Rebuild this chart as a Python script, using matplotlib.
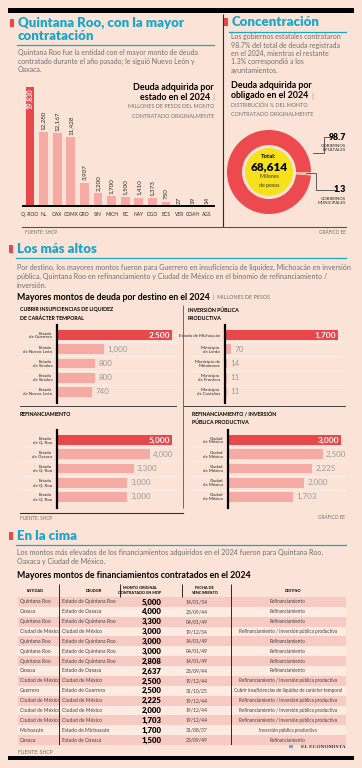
import matplotlib
matplotlib.use('Agg')
import matplotlib.pyplot as plt
from matplotlib.lines import Line2D
from matplotlib.patches import Rectangle, Circle
from matplotlib import font_manager

W, H = 362, 768

# datos: deuda adquirida por estado (mdp)
estados = ['Q. ROO', 'NL', 'OAX', 'CDMX', 'GRO', 'SIN', 'MICH', 'BC', 'NAY', 'DGO', 'BCS', 'VER', 'COAH', 'AGS']
deuda_estado = [19830, 12280, 12167, 11428, 3907, 2200, 1700, 1500, 1410, 1373, 750, 27, 19, 14]

# distribucion por obligado (%)
obligado = ['GOBIERNOS\nESTATALES', 'GOBIERNOS\nMUNICIPALES']
obligado_pct = [98.7, 1.3]
total_deuda = '68,614'

# mayores montos por destino
liq_labels = ['Estado\nde Guerrero', 'Estado\nde Nuevo León', 'Estado\nde Sinaloa', 'Estado\nde Sinaloa', 'Estado\nde Nuevo León']
liq_vals = [2500, 1000, 800, 800, 740]
inv_labels = ['Estado de Michoacán', 'Municipio\nde Lerdo', 'Municipio de\nMatamoros', 'Municipio\nde Frontera', 'Municipio\nde Castaños']
inv_vals = [1700, 70, 14, 11, 11]
ref_labels = ['Estado\nde Q. Roo', 'Estado\nde Oaxaca', 'Estado\nde Q. Roo', 'Estado\nde Q. Roo', 'Estado\nde Q. Roo']
ref_vals = [5000, 4000, 3300, 3000, 3000]
refinv_labels = ['Ciudad\nde México'] * 5
refinv_vals = [3000, 2500, 2225, 2000, 1703]

# tabla de financiamientos
REF = 'Refinanciamiento'
RI = 'Refinanciamiento / Inversión pública productiva'
tabla_entidad = ['Quintana Roo', 'Oaxaca', 'Quintana Roo', 'Ciudad de México', 'Quintana Roo', 'Quintana Roo',
                 'Quintana Roo', 'Oaxaca', 'Ciudad de México', 'Guerrero', 'Ciudad de México', 'Ciudad de México',
                 'Ciudad de México', 'Michoacán', 'Oaxaca']
tabla_deudor = ['Estado de Quintana Roo', 'Estado de Oaxaca', 'Estado de Quintana Roo', 'Ciudad de México',
                'Estado de Quintana Roo', 'Estado de Quintana Roo', 'Estado de Quintana Roo', 'Estado de Oaxaca',
                'Ciudad de México', 'Estado de Guerrero', 'Ciudad de México', 'Ciudad de México',
                'Ciudad de México', 'Estado de Michoacán', 'Estado de Oaxaca']
tabla_monto = [5000, 4000, 3300, 3000, 3000, 3000, 2808, 2637, 2500, 2500, 2225, 2000, 1703, 1700, 1500]
tabla_fecha = ['14/01/54', '23/09/44', '04/01/49', '19/12/34', '14/01/49', '04/01/49', '14/01/49', '23/09/44',
               '19/12/44', '31/10/25', '19/12/44', '19/12/44', '19/12/44', '31/08/37', '23/09/49']
tabla_destino = [REF, REF, REF, RI, REF, REF, REF, REF, RI,
                 'Cubrir insuficiencias de liquidez de carácter temporal', RI, RI, RI,
                 'Inversión pública productiva', REF]

BG = '#fbe4d7'
TEAL = '#1aa6c9'
RED = '#e8474b'
PINK = '#f5aaa3'
GRAY = '#707070'
DARK = '#2a2a2a'

names = {f.name for f in font_manager.fontManager.ttflist}
BODY = 'Lato' if 'Lato' in names else 'DejaVu Sans'
NARROW = 'Liberation Sans Narrow' if 'Liberation Sans Narrow' in names else BODY

fig = plt.figure(figsize=(W / 100, H / 100), dpi=100, facecolor=BG)


def fx(x):
    return x / W


def fy(y):
    return 1 - y / H


def txt(x, y, s, size, color=DARK, weight='normal', ha='left', va='center', family=None, **kw):
    return fig.text(fx(x), fy(y), s, fontsize=size, color=color, fontweight=weight, ha=ha, va=va,
                    family=family or BODY, **kw)


def hline(x0, x1, y, color=DARK, lw=0.7):
    fig.add_artist(Line2D([fx(x0), fx(x1)], [fy(y), fy(y)], color=color, lw=lw))


def vline(x, y0, y1, color=DARK, lw=0.7, z=2):
    fig.add_artist(Line2D([fx(x), fx(x)], [fy(y0), fy(y1)], color=color, lw=lw, zorder=z,
                          solid_capstyle='butt'))


def box(x0, y0, x1, y1, color, z=1):
    fig.add_artist(Rectangle((fx(x0), fy(y1)), fx(x1) - fx(x0), fy(y0) - fy(y1),
                             transform=fig.transFigure, color=color, lw=0, zorder=z))


def axes_px(x0, y0, x1, y1):
    ax = fig.add_axes([fx(x0), fy(y1), (x1 - x0) / W, (y1 - y0) / H])
    ax.set_facecolor('none')
    return ax


def after(t, gap=3):
    # pixel x right after a text
    fig.canvas.draw()
    bb = t.get_window_extent(fig.canvas.get_renderer())
    return bb.x1 + gap


def section_title(x, y, s):
    box(x - 8, y - 4, x - 4.5, y + 4, RED)
    txt(x, y, s, 9.5, TEAL, 'heavy')


# barras negras arriba y abajo
box(8, 8, 354, 12.5, 'black')
box(8, 756, 354, 760, 'black')

# ---------- seccion 1 ----------
section_title(18, 23, 'Quintana Roo, con la mayor')
txt(18, 36, 'contratación', 9.5, TEAL, 'heavy')
hline(17, 214, 45, TEAL, 0.9)
for i, line in enumerate(['Quintana Roo fue la entidad con el mayor monto de deuda',
                          'contratado durante el año pasado; le siguió Nuevo León y',
                          'Oaxaca.']):
    txt(18, 52 + i * 9, line, 5.05, GRAY)

ax1 = axes_px(23.2, 80, 213.6, 206)
xs = range(len(estados))
ax1.bar(xs, deuda_estado, width=0.66, color=[RED] + [PINK] * (len(estados) - 1))
ax1.set_xlim(-0.5, len(estados) - 0.5)
ax1.set_ylim(0, 21000)
for sp in ['top', 'right', 'left']:
    ax1.spines[sp].set_visible(False)
ax1.spines['bottom'].set_linewidth(1.4)
ax1.set_yticks([])
ax1.set_xticks(list(xs))
ax1.set_xticklabels(estados, fontsize=3.5, family=NARROW, color=DARK)
ax1.tick_params(axis='x', length=0, pad=4)
for i, v in enumerate(deuda_estado):
    if i == 0:
        ax1.text(i, v - 250, f'{v:,}', rotation=90, ha='center', va='top', color='white',
                 fontsize=4.8, fontweight='bold', family=NARROW)
    else:
        ax1.text(i, v + 350, f'{v:,}', rotation=90, ha='center', va='bottom', color=DARK,
                 fontsize=4.5, family=NARROW)

t = txt(210, 97, 'estado en el 2024', 6.4, 'black', 'bold', ha='right')
txt(214, 97, '|', 6.0, '#aaaaaa', ha='right')
txt(214, 88, 'Deuda adquirida por', 6.4, 'black', 'bold', ha='right')
txt(214, 107, 'MILLONES DE PESOS DEL MONTO', 3.85, GRAY, ha='right')
txt(214, 116, 'CONTRATADO ORIGINALMENTE', 3.85, GRAY, ha='right')

vline(223, 14, 227, DARK, 0.8)
hline(22, 346, 227, '#555555', 0.8)
txt(25, 232, 'FUENTE: SHCP', 3.4, GRAY)
txt(346, 232, 'GRÁFICO EE', 3.4, GRAY, ha='right')

# ---------- concentracion ----------
section_title(232, 22, 'Concentración')
hline(229, 346, 31.5, TEAL, 0.9)
for i, line in enumerate(['Los gobiernos estatales contrataron',
                          '98.7% del total de deuda registrada',
                          'en el 2024, mientras el restante',
                          '1.3% correspondió a los',
                          'ayuntamientos.']):
    txt(231, 37 + i * 8.3, line, 5.05, GRAY)
txt(231, 86, 'Deuda adquirida por', 6.4, 'black', 'bold')
t = txt(231, 96, 'obligado en el 2024', 6.4, 'black', 'bold')
txt(after(t, 3), 96, '|', 6.0, '#aaaaaa')
txt(231, 105, 'DISTRIBUCIÓN % DEL MONTO', 3.85, GRAY)
txt(231, 114, 'CONTRATADO ORIGINALMENTE', 3.85, GRAY)

axd = axes_px(224, 127, 314, 217)
axd.pie(obligado_pct, colors=['#ec4a4e', '#f7b9b0'], radius=42, startangle=0,
        wedgeprops=dict(width=15, linewidth=0))
axd.add_patch(Circle((0, 0), 24, color='#f6e11b', lw=0))
axd.set_xlim(-45, 45)
axd.set_ylim(-45, 45)
axd.set_aspect('equal')
axd.axis('off')
axd.text(0, 15, 'Total:', ha='center', va='center', fontsize=4.3, fontweight='bold', family=NARROW, color='black')
axd.text(0, 5, total_deuda, ha='center', va='center', fontsize=8.5, fontweight='heavy', family=BODY, color='black')
axd.text(0, -5, 'Millones', ha='center', va='center', fontsize=3.8, family=NARROW, color='#333333')
axd.text(0, -14, 'de pesos', ha='center', va='center', fontsize=3.8, family=NARROW, color='#333333')

fig.add_artist(Line2D([fx(313), fx(324), fx(324), fx(331)], [fy(153), fy(153), fy(137), fy(137)], color='#444444', lw=0.6))
fig.add_artist(Line2D([fx(306), fx(316), fx(316), fx(336)], [fy(173), fy(173), fy(190), fy(190)], color='#444444', lw=0.6))
lab_y = [137, 190]
for pct, name, y in zip(obligado_pct, obligado, lab_y):
    txt(346, y, f'{pct}', 6.3, 'black', 'heavy', ha='right')
    txt(346, y + 11, name, 3.2, DARK, ha='right', family=NARROW, linespacing=1.2)

# ---------- los mas altos ----------
section_title(17, 249, 'Los más altos')
hline(16, 346, 258, TEAL, 0.9)
for i, line in enumerate(['Por destino, los mayores montos fueron para Guerrero en insuficiencia de liquidez, Michoacán en inversión',
                          'pública, Quintana Roo en refinanciamiento y Ciudad de México en el binomio de refinanciamiento /',
                          'inversión.']):
    txt(17, 267 + i * 9, line, 5.1, GRAY)
t = txt(17, 297, 'Mayores montos de deuda por destino en el 2024', 6.3, 'black', 'bold')
txt(after(t, 3), 297, '|  MILLONES DE PESOS', 3.85, GRAY)

txt(20, 310, 'CUBRIR INSUFICIENCIAS DE LIQUIDEZ', 3.8, 'black', 'bold', family=NARROW)
txt(20, 318, 'DE CARÁCTER TEMPORAL', 3.8, 'black', 'bold', family=NARROW)
txt(188, 310, 'INVERSIÓN PÚBLICA', 3.8, 'black', 'bold', family=NARROW)
txt(188, 318, 'PRODUCTIVA', 3.8, 'black', 'bold', family=NARROW)
txt(20, 414, 'REFINANCIAMIENTO', 3.8, 'black', 'bold', family=NARROW)
txt(192, 414, 'REFINANCIAMIENTO / INVERSIÓN', 3.8, 'black', 'bold', family=NARROW)
txt(192, 422, 'PÚBLICA PRODUCTIVA', 3.8, 'black', 'bold', family=NARROW)

vline(183, 305, 508, '#555555', 0.6)
hline(20, 176, 406, '#444444', 0.7)
hline(184, 345, 406, '#444444', 0.7)

ROW = 14.2  # px por fila


def hbar_panel(ax, labels, vals, xmax, grid_left):
    n = len(vals)
    ys = range(n)
    ax.barh(ys, vals, left=xmax * 0.012, height=0.68, color=[RED] + [PINK] * (n - 1), zorder=2)
    ax.set_xlim(0, xmax)
    ax.set_ylim(n - 0.5 + 4 / ROW, -0.5 - 3 / ROW)
    for sp in ['top', 'right', 'bottom']:
        ax.spines[sp].set_visible(False)
    ax.spines['left'].set_color('black')
    ax.spines['left'].set_linewidth(1.6)
    ax.spines['left'].set_zorder(8)
    ax.set_xticks([])
    ax.set_yticks(list(ys))
    ax.set_yticklabels(labels, fontsize=3.2, family=NARROW, color=DARK, linespacing=0.95)
    ax.tick_params(axis='y', length=0, pad=3.5)
    tr = ax.get_yaxis_transform()
    for k in range(n - 1):
        ax.plot([grid_left, 1], [k + 0.5, k + 0.5], transform=tr, color='#fdf3ee', lw=0.5,
                clip_on=False, zorder=1)
    for k, v in enumerate(vals):
        if k == 0:
            ax.text(v - xmax * 0.005, k, f'{v:,}', ha='right', va='center', color='white',
                    fontsize=6.0, fontweight='bold', family=BODY, zorder=6)
        else:
            ax.text(v + xmax * 0.04, k, f'{v:,}', ha='left', va='center', color='#9a9a9a',
                    fontsize=5.8, family=BODY, zorder=6)


p1 = axes_px(57, 325, 176, 403)
hbar_panel(p1, liq_labels, liq_vals, 2500 * 119 / 114, -0.31)
p2 = axes_px(225, 325, 343, 403)
hbar_panel(p2, inv_labels, inv_vals, 1700 * 118 / 112, -0.31)
p3 = axes_px(57, 430, 176, 508)
hbar_panel(p3, ref_labels, ref_vals, 5000 * 119 / 114, -0.31)
p4 = axes_px(228, 430, 345, 508)
hbar_panel(p4, refinv_labels, refinv_vals, 3000 * 117 / 112, -0.31)

hline(20, 183, 512.5, '#333333', 0.8)
txt(20, 518, 'FUENTE: SHCP', 3.4, GRAY)
txt(345, 517, 'GRÁFICO EE', 3.4, GRAY, ha='right')

# ---------- en la cima ----------
section_title(17, 536, 'En la cima')
hline(16, 346, 544.5, TEAL, 0.9)
for i, line in enumerate(['Los montos más elevados de los financiamientos adquiridos en el 2024 fueron para Quintana Roo,',
                          'Oaxaca y Ciudad de México.']):
    txt(17, 552 + i * 9.5, line, 5.1, GRAY)
txt(17, 575, 'Mayores montos de financiamientos contratados en el 2024', 6.3, 'black', 'bold')

for s, x in [('ENTIDAD', 35), ('DEUDOR', 94), ('MONTO ORIGINAL\nCONTRATADO EN MDP', 140),
             ('FECHA DE\nVENCIMIENTO', 204), ('DESTINO', 293)]:
    txt(x, 590.5, s, 2.8, 'black', 'bold', ha='center', family=NARROW, linespacing=1.3)
for x in [59, 120, 182, 230.5]:
    vline(x, 584, 597, DARK, 0.7)

tab = axes_px(18, 597, 346, 745)
nrow = len(tabla_monto)
rows = range(nrow)
tab.barh(rows, 328, left=18, height=1.0, color=['#f7cbc3' if r % 2 == 0 else '#fdebe2' for r in rows], lw=0)
tab.set_xlim(18, 346)
tab.set_ylim(nrow - 0.5, -0.5)
tab.axis('off')
for x in [59, 230.5]:
    tab.plot([x, x], [-0.5, nrow - 0.5], color=DARK, lw=0.7)
for r in rows:
    tab.text(19.5, r, tabla_entidad[r], ha='left', va='center', fontsize=3.6, family=NARROW, color='#444444')
    tab.text(62, r, tabla_deudor[r], ha='left', va='center', fontsize=3.6, family=NARROW, color='#444444')
    tab.text(162, r, f'{tabla_monto[r]:,}', ha='right', va='center', fontsize=5.6, fontweight='heavy',
             family=BODY, color='black')
    tab.text(197, r, tabla_fecha[r], ha='center', va='center', fontsize=3.6, family=NARROW, color='#444444')
    tab.text(288, r, tabla_destino[r], ha='center', va='center', fontsize=3.3, family=NARROW, color='#444444')

txt(18, 752, 'FUENTE: SHCP', 3.6, GRAY)
box(289, 744.5, 292.5, 748, '#58b2de')
txt(346, 747, 'EL ECONOMISTA', 3.9, '#1d2f4f', 'bold', ha='right', family='Liberation Serif')

fig.savefig('out.png', dpi=100, facecolor=BG)
